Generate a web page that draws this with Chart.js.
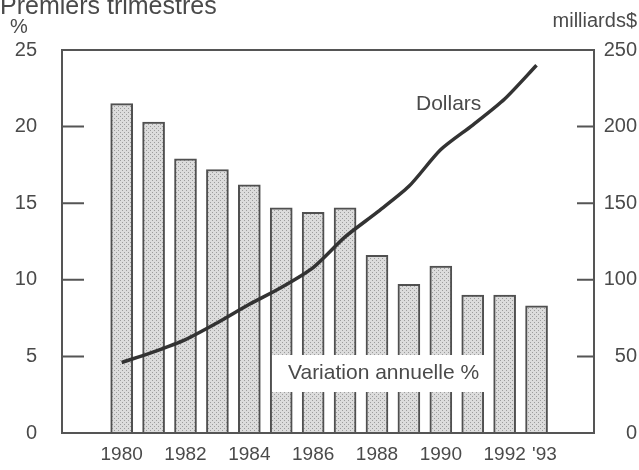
<!DOCTYPE html>
<html>
<head>
<meta charset="utf-8">
<script src="https://cdn.jsdelivr.net/npm/chart.js@4.4.0/dist/chart.umd.min.js"></script>
<style>
  html, body { margin: 0; padding: 0; background: #fff; }
</style>
</head>
<body>
<canvas id="chart" width="639" height="470"></canvas>
<script>
// données (premiers trimestres)
const years = [1980, 1981, 1982, 1983, 1984, 1985, 1986, 1987, 1988, 1989, 1990, 1991, 1992, 1993]
const variation = [21.5, 20.3, 17.9, 17.2, 16.2, 14.7, 14.4, 14.7, 11.6, 9.7, 10.9, 9.0, 9.0, 8.3]   // %
const dollars = [46, 53, 61, 72, 84, 95, 108, 128, 144, 161, 185, 201, 218, 240]                    // milliards $
const yearTicks = [1980, 1982, 1984, 1986, 1988, 1990, 1992, 1993]
const leftTicks = [0, 5, 10, 15, 20, 25]
const rightTicks = [0, 50, 100, 150, 200, 250]

const ink = '#4a4a4a'
const font = 'Liberation Sans, Arial, sans-serif'

// motif pointillé des barres
function dotPattern() {
  const c = document.createElement('canvas')
  c.width = 4; c.height = 4
  const g = c.getContext('2d')
  g.fillStyle = '#dcdcdc'
  g.fillRect(0, 0, 4, 4)
  g.fillStyle = '#9c9c9c'
  g.fillRect(0, 0, 1, 1)
  g.fillRect(2, 2, 1, 1)
  return g.createPattern(c, 'repeat')
}

// cadre, graduations intérieures et textes
const decor = {
  id: 'decor',
  afterDatasetsDraw(chart) {
    const ctx = chart.ctx
    // encadré "Variation annuelle %"
    ctx.save()
    ctx.fillStyle = '#fff'
    ctx.fillRect(272, 355, 218, 37)
    ctx.fillStyle = ink
    ctx.font = '21px ' + font
    ctx.textBaseline = 'alphabetic'
    ctx.fillText('Variation annuelle %', 288, 379)
    ctx.fillText('Dollars', 416, 110)
    ctx.restore()
  },
  afterDraw(chart) {
    const ctx = chart.ctx
    const a = chart.chartArea
    const yl = chart.scales.y
    const yr = chart.scales.y2
    ctx.save()
    ctx.strokeStyle = '#555'
    ctx.lineWidth = 2
    ctx.strokeRect(a.left, a.top, a.right - a.left, a.bottom - a.top)
    ctx.beginPath()
    leftTicks.slice(1, -1).forEach(v => {
      const p = yl.getPixelForValue(v)
      ctx.moveTo(a.left, p); ctx.lineTo(a.left + 22, p)
    })
    rightTicks.slice(1, -1).forEach(v => {
      const p = yr.getPixelForValue(v)
      ctx.moveTo(a.right, p); ctx.lineTo(a.right - 17, p)
    })
    ctx.stroke()

    ctx.fillStyle = ink
    ctx.font = '25px ' + font
    ctx.fillText('Premiers trimestres', 0, 14)
    ctx.font = '20px ' + font
    ctx.fillText('%', 10, 33)
    ctx.textAlign = 'right'
    ctx.fillText('milliards$', 637, 27)
    ctx.restore()
  }
}

new Chart(document.getElementById('chart'), {
  type: 'bar',
  data: {
    datasets: [
      {
        type: 'line',
        label: 'Dollars',
        data: years.map((y, i) => ({ x: y, y: dollars[i] })),
        yAxisID: 'y2',
        borderColor: '#333',
        borderWidth: 3.5,
        tension: 0.25,
        pointRadius: 0,
        order: 0
      },
      {
        label: 'Variation annuelle %',
        data: years.map((y, i) => ({ x: y, y: variation[i] })),
        yAxisID: 'y',
        backgroundColor: dotPattern(),
        borderColor: '#505050',
        borderWidth: 2,
        barThickness: 22,
        order: 1
      }
    ]
  },
  options: {
    responsive: false,
    animation: false,
    layout: { padding: { left: 0, right: 2, top: 50, bottom: 0 } },
    plugins: { legend: { display: false }, tooltip: { enabled: false } },
    scales: {
      x: {
        type: 'linear',
        offset: false,
        min: 1978.13,
        max: 1994.8,
        grid: { display: false, drawTicks: false },
        border: { display: false },
        afterBuildTicks: s => { s.ticks = yearTicks.map(v => ({ value: v })) },
        afterFit: s => { s.height = 29 },
        ticks: {
          autoSkip: false,
          maxRotation: 0,
          padding: 10,
          color: ink,
          font: { family: font, size: 19 },
          callback: v => v === 1993 ? "   '93" : String(v)
        }
      },
      y: {
        position: 'left',
        min: 0,
        max: 25,
        grid: { display: false, drawTicks: false },
        border: { display: false },
        afterBuildTicks: s => { s.ticks = leftTicks.map(v => ({ value: v })) },
        afterFit: s => { s.width = 62 },
        ticks: { padding: 25, color: ink, font: { family: font, size: 20 } }
      },
      y2: {
        position: 'right',
        min: 0,
        max: 250,
        grid: { display: false, drawTicks: false },
        border: { display: false },
        afterBuildTicks: s => { s.ticks = rightTicks.map(v => ({ value: v })) },
        afterFit: s => { s.width = 43 },
        ticks: { crossAlign: 'far', color: ink, font: { family: font, size: 20 } }
      }
    }
  },
  plugins: [decor]
})
</script>
</body>
</html>
